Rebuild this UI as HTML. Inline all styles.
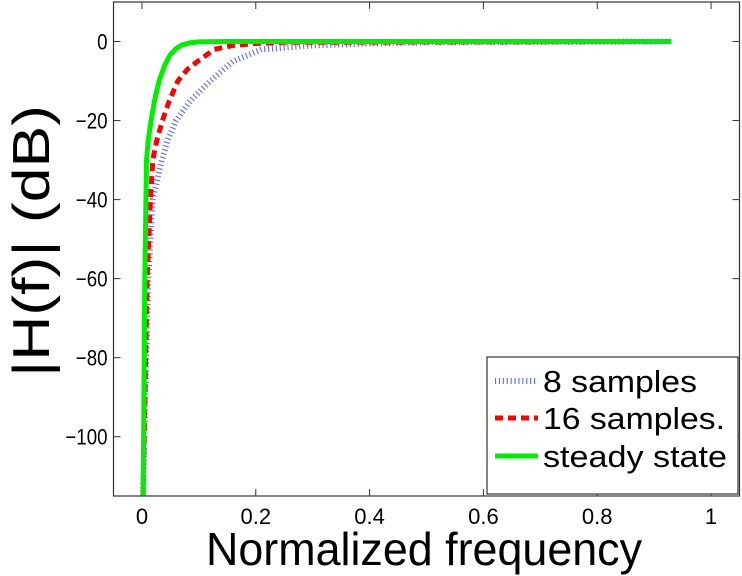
<!DOCTYPE html>
<html><head><meta charset="utf-8"><style>
body{margin:0;background:#fff;}
svg{display:block;font-family:"Liberation Sans",sans-serif;}
</style></head><body>
<svg id="chart" width="742" height="576" viewBox="0 0 742 576" style="position:absolute;left:0;top:0">
<rect x="0" y="0" width="742" height="576" fill="#fff"/>
<g id="plot"></g>
</svg>
<script>
const xTicks=[0,0.2,0.4,0.6,0.8,1];
const xTickLabels=["0","0.2","0.4","0.6","0.8","1"];
const yTicks=[0,-20,-40,-60,-80,-100];
const yTickLabels=["0","\u221220","\u221240","\u221260","\u221280","\u2212100"];
const fBlue=[0.002,0.004,0.011,0.019,0.035,0.045,0.06,0.085,0.12,0.16,0.21,0.3,0.4,0.5,0.93];
const dbBlue=[-115,-100,-60,-40,-30,-25,-20,-15,-10,-5,-2,-1,-0.5,-0.2,0];
const fRed=[0.002,0.004,0.009,0.015,0.019,0.026,0.036,0.048,0.063,0.08,0.098,0.127,0.16,0.2,0.25,0.93];
const dbRed=[-115,-100,-60,-40,-30,-25,-20,-15,-10,-7,-5,-2,-1,-0.5,-0.2,0];
const fGreen=[0.002,0.003,0.005,0.007,0.008,0.011,0.016,0.022,0.03,0.04,0.049,0.06,0.07,0.085,0.1,0.15,0.93];
const dbGreen=[-115,-100,-60,-40,-30,-25,-20,-15,-10,-6,-3.5,-1.8,-0.9,-0.3,-0.1,0,0];

const L=113.5,R=739.5,T=2,B=496;
const xmin=-0.05,xmax=1.05,ymin=-115,ymax=10;
const X=v=>L+(v-xmin)/(xmax-xmin)*(R-L);
const Y=v=>B-(v-ymin)/(ymax-ymin)*(B-T);
const NS="http://www.w3.org/2000/svg";
const g=document.getElementById('plot');
function mk(tag,attrs,parent){const e=document.createElementNS(NS,tag);for(const k in attrs)e.setAttribute(k,attrs[k]);(parent||g).appendChild(e);return e;}

xTicks.forEach((v,i)=>{
  const t=mk('line',{x1:X(v),x2:X(v),y1:B,y2:B-7,stroke:'#333','stroke-width':1});
  
  
  const t2=mk('line',{x1:X(v),x2:X(v),y1:T,y2:T+7,stroke:'#333','stroke-width':1});
  
  
  const lb=mk('text',{x:X(v),y:B+28,'font-size':22,'text-anchor':'middle',fill:'#000'});
  lb.textContent=xTickLabels[i];
  
  
});
yTicks.forEach((v,i)=>{
  const t=mk('line',{x1:L,x2:L+7,y1:Y(v),y2:Y(v),stroke:'#333','stroke-width':1});
  
  
  const t2=mk('line',{x1:R,x2:R-7,y1:Y(v),y2:Y(v),stroke:'#333','stroke-width':1});
  
  
  const lb=mk('text',{transform:'translate('+(L-6)+','+(Y(v)+8)+') scale(0.85,1)','font-size':22,'text-anchor':'end',fill:'#000'});
  lb.textContent=yTickLabels[i];
  
  
});

function path(fs,ds){return fs.map((f,i)=>(i?'L':'M')+X(f).toFixed(2)+' '+Y(ds[i]).toFixed(2)).join(' ');}
const clip=mk('clipPath',{id:'clp'});
mk('rect',{x:L,y:T,width:R-L,height:B-T},clip);

const pb=mk('path',{d:path(fBlue,dbBlue),fill:'none',stroke:'#3344ee','stroke-width':6,'stroke-dasharray':'1.1 2.8','stroke-opacity':0.8,'stroke-linejoin':'round','clip-path':'url(#clp)'});


const pr=mk('path',{d:path(fRed,dbRed),fill:'none',stroke:'#ff0000','stroke-width':5,'stroke-dasharray':'8 5','stroke-linejoin':'round','clip-path':'url(#clp)'});


const pg=mk('path',{d:path(fGreen,dbGreen),fill:'none',stroke:'#00ee00','stroke-width':5,'stroke-linejoin':'round','clip-path':'url(#clp)'});



const fr=mk('rect',{x:L,y:T,width:R-L,height:B-T,fill:'none',stroke:'#333','stroke-width':1.2});


</script>
<svg width="742" height="576" style="position:absolute;left:0;top:0">
<g>
<rect x="487" y="357" width="251" height="137" fill="#fff" stroke="#333" stroke-width="1.2"/>
<line x1="495" y1="381" x2="538" y2="381" stroke="#3344ee" stroke-width="6" stroke-dasharray="1.1 2.8" stroke-opacity="0.8"/>
<text x="543" y="392" font-size="31" textLength="154" lengthAdjust="spacingAndGlyphs" font-family="Liberation Sans, sans-serif">8 samples</text>
<line x1="495" y1="418" x2="538" y2="418" stroke="#ff0000" stroke-width="5" stroke-dasharray="8 5"/>
<text x="543" y="429" font-size="31" textLength="182" lengthAdjust="spacingAndGlyphs" font-family="Liberation Sans, sans-serif">16 samples.</text>
<line x1="495" y1="456" x2="538" y2="456" stroke="#00ee00" stroke-width="5"/>
<text x="543" y="467" font-size="31" textLength="184" lengthAdjust="spacingAndGlyphs" font-family="Liberation Sans, sans-serif">steady state</text>
</g>
<text x="206" y="565" font-size="46" textLength="436" lengthAdjust="spacingAndGlyphs" font-family="Liberation Sans, sans-serif">Normalized frequency</text>
<text transform="translate(49,241) rotate(-90)" font-size="52" text-anchor="middle" textLength="272" lengthAdjust="spacingAndGlyphs" font-family="Liberation Sans, sans-serif">|H(f)| (dB)</text>
</svg>
</body></html>
